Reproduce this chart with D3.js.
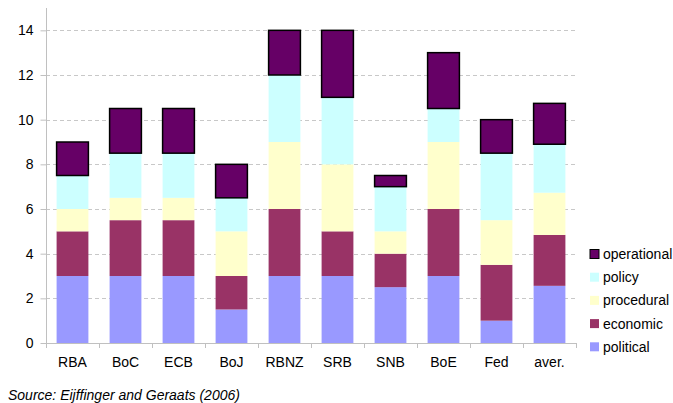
<!DOCTYPE html>
<html>
<head>
<meta charset="utf-8">
<script src="https://d3js.org/d3.v7.min.js"></script>
<style>
  body { margin: 0; background: #fff; }
  text { font-family: "Liberation Sans", Arial, sans-serif; }
</style>
</head>
<body>
<div id="chart"></div>
<script>
const banks = ["RBA", "BoC", "ECB", "BoJ", "RBNZ", "SRB", "SNB", "BoE", "Fed", "aver."];
const political   = [3, 3, 3, 1.5, 3, 3, 2.5, 3, 1, 2.56];
const economic    = [2, 2.5, 2.5, 1.5, 3, 2, 1.5, 3, 2.5, 2.28];
const procedural  = [1, 1, 1, 2, 3, 3, 1, 3, 2, 1.89];
const policy      = [1.5, 2, 2, 1.5, 3, 3, 2, 1.5, 3, 2.17];
const operational = [1.5, 2, 2, 1.5, 2, 3, 0.5, 2.5, 1.5, 1.83];
const seriesNames = ["political", "economic", "procedural", "policy", "operational"];
const seriesColors = ["#9999ff", "#993366", "#ffffcc", "#ccffff", "#660066"];
const yTicks = [0, 2, 4, 6, 8, 10, 12, 14];
const source = "Source: Eijffinger and Geraats (2006)";

const W = 673, H = 403;
const plotLeft = 46, plotRight = 576, plotTop = 8, plotBottom = 343;
const fontSize = 14;

const svg = d3.select("#chart").append("svg")
  .attr("width", W)
  .attr("height", H);

const table = banks.map((b, i) => ({
  bank: b,
  political: political[i],
  economic: economic[i],
  procedural: procedural[i],
  policy: policy[i],
  operational: operational[i]
}));

const stacked = d3.stack().keys(seriesNames)(table);

const x = d3.scaleBand()
  .domain(banks)
  .range([plotLeft, plotRight])
  .paddingInner(0.4)
  .paddingOuter(0.2);

const y = d3.scaleLinear()
  .domain([0, 15])
  .range([plotBottom, plotTop]);

const color = d3.scaleOrdinal().domain(seriesNames).range(seriesColors);

// gridlines
svg.append("g")
  .selectAll("line")
  .data(yTicks.filter(d => d > 0))
  .join("line")
  .attr("x1", plotLeft)
  .attr("x2", plotRight)
  .attr("y1", d => Math.round(y(d)) + 0.5)
  .attr("y2", d => Math.round(y(d)) + 0.5)
  .attr("stroke", "#c8c8c8")
  .attr("stroke-dasharray", "4,3");

// bars
svg.append("g")
  .selectAll("g")
  .data(stacked)
  .join("g")
  .attr("fill", d => color(d.key))
  .selectAll("rect")
  .data(d => d.map(v => Object.assign(v, {key: d.key})))
  .join("rect")
  .attr("x", d => x(d.data.bank))
  .attr("width", x.bandwidth())
  .attr("y", d => y(d[1]))
  .attr("height", d => y(d[0]) - y(d[1]))
  .attr("stroke", d => d.key === "operational" ? "#000" : "none")
  .attr("stroke-width", 1.5);

// y axis
const yAxis = svg.append("g")
  .attr("transform", `translate(${plotLeft + 0.5},0)`)
  .call(d3.axisLeft(y).tickValues(yTicks).tickSize(6).tickPadding(7));
yAxis.select(".domain").attr("stroke", "#c0c0c0").attr("d", `M0,${plotTop}V${plotBottom}`);
yAxis.selectAll(".tick line").attr("stroke", "#c0c0c0");
yAxis.selectAll(".tick text").attr("font-size", fontSize).attr("fill", "#000");

// x axis
const xAxis = svg.append("g")
  .attr("transform", `translate(0,${plotBottom + 0.5})`)
  .call(d3.axisBottom(x).tickSize(0).tickPadding(14));
xAxis.select(".domain").attr("stroke", "#c0c0c0").attr("d", `M${plotLeft},0H${plotRight}`);
xAxis.selectAll(".tick text").attr("font-size", fontSize).attr("fill", "#000");

// band boundary tick marks
svg.append("g")
  .selectAll("line")
  .data(d3.range(banks.length + 1))
  .join("line")
  .attr("x1", i => Math.round(plotLeft + i * (plotRight - plotLeft) / banks.length) + 0.5)
  .attr("x2", i => Math.round(plotLeft + i * (plotRight - plotLeft) / banks.length) + 0.5)
  .attr("y1", plotBottom)
  .attr("y2", plotBottom + 5)
  .attr("stroke", "#c0c0c0");

// legend
const legendOrder = seriesNames.slice().reverse();
const legend = svg.append("g")
  .selectAll("g")
  .data(legendOrder)
  .join("g")
  .attr("transform", (d, i) => `translate(590,${254 + i * 23.2})`);
legend.append("rect")
  .attr("x", 0)
  .attr("y", -4.5)
  .attr("width", 9)
  .attr("height", 9)
  .attr("fill", d => color(d))
  .attr("stroke", d => d === "operational" ? "#000" : "none");
legend.append("text")
  .attr("x", 13)
  .attr("dy", "0.35em")
  .attr("font-size", fontSize)
  .text(d => d);

// source note
svg.append("text")
  .attr("x", 8)
  .attr("y", 400)
  .attr("font-size", fontSize)
  .attr("font-style", "italic")
  .text(source);
</script>
</body>
</html>
